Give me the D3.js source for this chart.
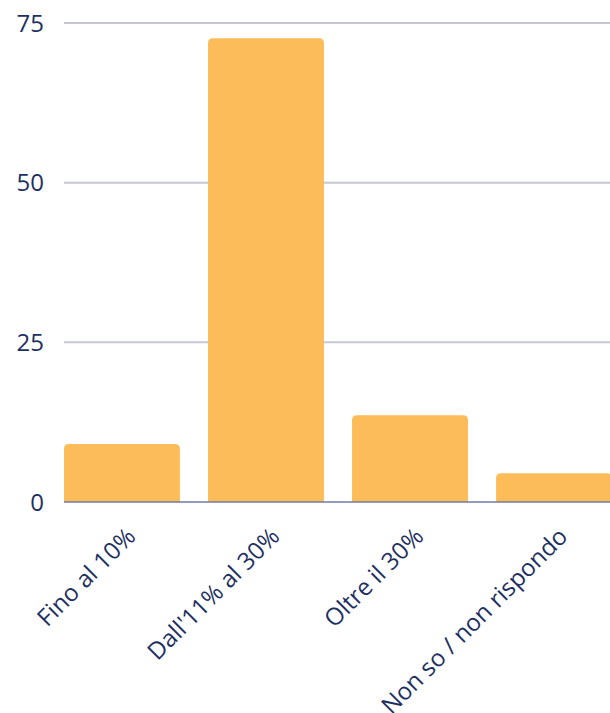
<!DOCTYPE html>
<html>
<head>
<meta charset="utf-8">
<script src="https://cdn.jsdelivr.net/npm/d3@7"></script>
<style>
  body { margin: 0; background: #fff; }
  svg text { font-family: "Open Sans", sans-serif; fill: #1e2f62; }
</style>
</head>
<body>
<svg id="chart" width="610" height="713"></svg>
<script>
const categories = ["Fino al 10%", "Dall'11% al 30%", "Oltre il 30%", "Non so / non rispondo"];
const values = [9.1, 72.6, 13.6, 4.5];
const yTicks = [0, 25, 50, 75];

const margin = { top: 23, right: 0, bottom: 211, left: 64 };
const width = 610 - margin.left - margin.right;
const height = 713 - margin.top - margin.bottom;

const svg = d3.select("#chart");
const g = svg.append("g").attr("transform", `translate(${margin.left},${margin.top})`);

const x = d3.scaleBand().domain(categories).range([0, width + 2]).paddingInner(0.195).paddingOuter(0);
const y = d3.scaleLinear().domain([0, 75]).range([height, 0]);

// grid lines
g.selectAll("line.grid")
  .data(yTicks.filter(d => d > 0))
  .join("line")
  .attr("class", "grid")
  .attr("x1", 0).attr("x2", width)
  .attr("y1", d => y(d)).attr("y2", d => y(d))
  .attr("stroke", "#c5c7d7").attr("stroke-width", 2);

// y tick labels
g.selectAll("text.ytick")
  .data(yTicks)
  .join("text")
  .attr("class", "ytick")
  .attr("x", -20).attr("y", d => y(d))
  .attr("dy", "0.36em")
  .attr("text-anchor", "end")
  .style("font-size", "24px")
  .text(d => d);

// bars with rounded top corners
const r = 5;
function barPath(d, i) {
  const x0 = x(categories[i]), w = x.bandwidth();
  const y0 = y(d), y1 = y(0);
  return `M${x0},${y1} L${x0},${y0 + r} Q${x0},${y0} ${x0 + r},${y0} L${x0 + w - r},${y0} Q${x0 + w},${y0} ${x0 + w},${y0 + r} L${x0 + w},${y1} Z`;
}
g.selectAll("path.bar")
  .data(values)
  .join("path")
  .attr("class", "bar")
  .attr("d", barPath)
  .attr("fill", "#fdbc5a");

// baseline
g.append("line")
  .attr("x1", 0).attr("x2", width)
  .attr("y1", y(0)).attr("y2", y(0))
  .attr("stroke", "#6f7ca5").attr("stroke-width", 1.5);

// x labels rotated
g.selectAll("text.xlab")
  .data(categories)
  .join("text")
  .attr("class", "xlab")
  .attr("text-anchor", "end")
  .attr("transform", d => `translate(${x(d) + x.bandwidth() / 2 + 15},${height + 36}) rotate(-45)`)
  .style("font-size", "24px")
  .text(d => d);
</script>
</body>
</html>
